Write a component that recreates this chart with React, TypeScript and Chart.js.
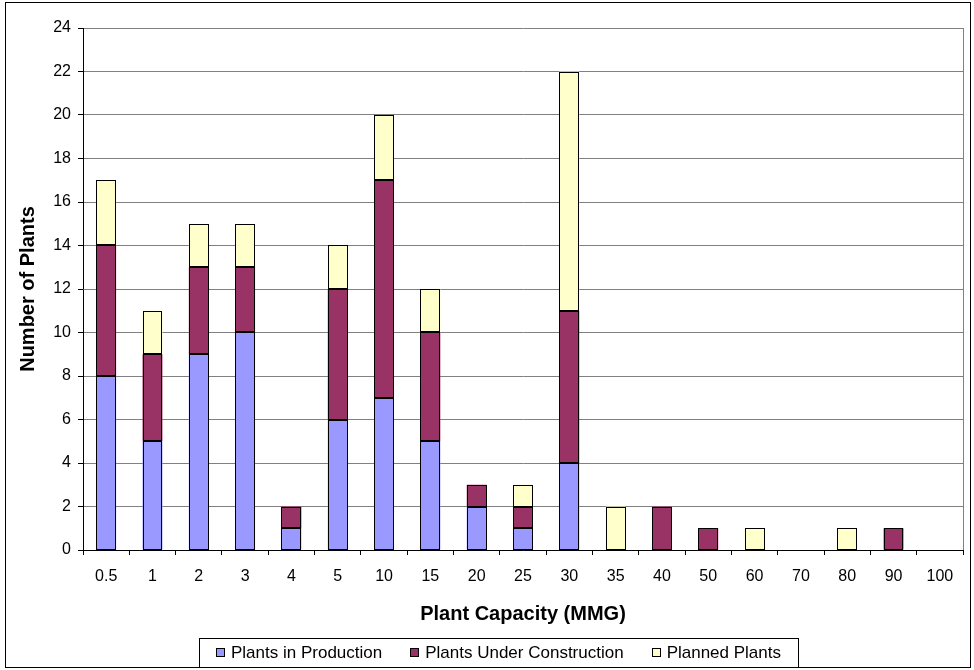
import React, { useEffect, useRef } from "react";
import { Chart, registerables } from "chart.js";

Chart.register(...registerables);

const categories = ["0.5", "1", "2", "3", "4", "5", "10", "15", "20", "25", "30", "35", "40", "50", "60", "70", "80", "90", "100"];
const production = [8, 5, 9, 10, 1, 6, 7, 5, 2, 1, 4, 0, 0, 0, 0, 0, 0, 0, 0];
const construction = [6, 4, 4, 3, 1, 6, 10, 5, 1, 1, 7, 0, 2, 1, 0, 0, 0, 1, 0];
const planned = [3, 2, 2, 2, 0, 2, 3, 2, 0, 1, 11, 2, 0, 0, 1, 0, 1, 0, 0];
const seriesNames = ["Plants in Production", "Plants Under Construction", "Planned Plants"];
const seriesColors = ["#9999FF", "#993366", "#FFFFCC"];
const yTicks = [0, 2, 4, 6, 8, 10, 12, 14, 16, 18, 20, 22, 24];

const FONT = '"Liberation Sans", Arial, sans-serif';

const framePlugin = {
  id: "frame",
  beforeDraw(chart: any) {
    const ctx = chart.ctx;
    ctx.save();
    ctx.fillStyle = "#ffffff";
    ctx.fillRect(0, 0, chart.width, chart.height);
    ctx.restore();
  },
  afterDatasetsDraw(chart: any) {
    // crisp black outlines around every bar segment, from the bar elements' own geometry
    const ctx = chart.ctx;
    ctx.save();
    ctx.strokeStyle = "#000000";
    ctx.lineWidth = 1;
    chart.data.datasets.forEach((_: any, di: number) => {
      const meta = chart.getDatasetMeta(di);
      meta.data.forEach((el: any) => {
        const { x, y, base, width } = el.getProps(["x", "y", "base", "width"], true);
        if (y == null || base == null || Math.abs(base - y) < 0.5) return;
        const l = Math.round(x - width / 2) + 0.5;
        const r = Math.round(x + width / 2) - 0.5;
        const t = Math.round(Math.min(y, base)) + 0.5;
        const b = Math.round(Math.max(y, base)) - 0.5;
        ctx.strokeRect(l, t, r - l, b - t);
      });
    });
    ctx.restore();
  },
  afterDraw(chart: any) {
    const ctx = chart.ctx;
    const a = chart.chartArea;
    ctx.save();
    // plot area right border
    ctx.strokeStyle = "#808080";
    ctx.lineWidth = 1;
    ctx.beginPath();
    ctx.moveTo(Math.round(a.right) + 0.5, a.top);
    ctx.lineTo(Math.round(a.right) + 0.5, a.bottom);
    ctx.stroke();
    // outer border
    ctx.strokeStyle = "#000000";
    ctx.strokeRect(5.5, 2.5, 965, 665);

    // legend
    ctx.font = `17px ${FONT}`;
    const markerW = 9;
    const markerGap = 6;
    const itemGap = 28;
    const widths = seriesNames.map((n) => ctx.measureText(n).width);
    const total = widths.reduce((s, w) => s + markerW + markerGap + w, 0) + itemGap * (seriesNames.length - 1);
    const center = 498.5;
    const boxPad = 17;
    const boxLeft = Math.round(center - total / 2 - boxPad) + 0.5;
    const boxRight = Math.round(center + total / 2 + boxPad) + 0.5;
    const boxTop = 638.5;
    const boxBottom = 667.5;
    ctx.fillStyle = "#ffffff";
    ctx.fillRect(boxLeft, boxTop, boxRight - boxLeft, boxBottom - boxTop);
    ctx.strokeStyle = "#000000";
    ctx.strokeRect(boxLeft, boxTop, boxRight - boxLeft, boxBottom - boxTop);
    let x = center - total / 2;
    const cy = 653;
    ctx.textBaseline = "middle";
    ctx.textAlign = "left";
    seriesNames.forEach((name, i) => {
      const mx = Math.round(x) + 0.5;
      ctx.fillStyle = seriesColors[i];
      ctx.fillRect(mx, cy - 4.5, markerW - 1, markerW - 1);
      ctx.strokeStyle = "#000000";
      ctx.strokeRect(mx, cy - 4.5, markerW - 1, markerW - 1);
      ctx.fillStyle = "#000000";
      ctx.fillText(name, x + markerW + markerGap, cy);
      x += markerW + markerGap + widths[i] + itemGap;
    });
    ctx.restore();
  },
};

export default function App() {
  const ref = useRef<HTMLCanvasElement | null>(null);

  useEffect(() => {
    if (!ref.current) return;
    const dataSets = [production, construction, planned];
    const chart = new Chart(ref.current, {
      type: "bar",
      data: {
        labels: categories,
        datasets: dataSets.map((d, i) => ({
          label: seriesNames[i],
          data: d.map((v) => (v === 0 ? null : v)),
          backgroundColor: seriesColors[i],
          borderWidth: 0,
          barPercentage: 0.43,
          categoryPercentage: 1,
        })),
      },
      options: {
        responsive: false,
        animation: false,
        devicePixelRatio: 1,
        layout: { padding: { left: 14, top: 28, right: 11, bottom: 40 } },
        plugins: {
          legend: { display: false },
          tooltip: { enabled: false },
        },
        scales: {
          x: {
            stacked: true,
            afterFit: (s: any) => {
              s.height = 80;
            },
            grid: {
              drawOnChartArea: false,
              offset: true,
              tickLength: 5,
              tickColor: "#000000",
              color: "#000000",
            },
            border: { color: "#000000", width: 1 },
            ticks: {
              color: "#000000",
              font: { family: FONT, size: 16 },
              padding: 12,
              maxRotation: 0,
              autoSkip: false,
            },
            title: {
              display: true,
              text: "Plant Capacity (MMG)",
              color: "#000000",
              font: { family: FONT, size: 20, weight: "bold" },
              padding: { top: 0, bottom: 4 },
            },
          },
          y: {
            stacked: true,
            min: 0,
            max: 24,
            afterFit: (s: any) => {
              s.width = 69;
            },
            afterBuildTicks: (s: any) => {
              s.ticks = yTicks.map((v) => ({ value: v }));
            },
            grid: {
              color: "#808080",
              tickLength: 5,
              tickColor: "#000000",
            },
            border: { color: "#000000", width: 1 },
            ticks: {
              color: "#000000",
              font: { family: FONT, size: 16 },
              padding: 7,
            },
            title: {
              display: true,
              text: "Number of Plants",
              color: "#000000",
              font: { family: FONT, size: 20, weight: "bold" },
              padding: { top: 2, bottom: 0 },
            },
          },
        },
      },
      plugins: [framePlugin],
    } as any);
    return () => chart.destroy();
  }, []);

  return (
    <div style={{ position: "absolute", left: 0, top: 0, width: 974, height: 670 }}>
      <canvas ref={ref} width={974} height={670} style={{ display: "block" }} />
    </div>
  );
}
